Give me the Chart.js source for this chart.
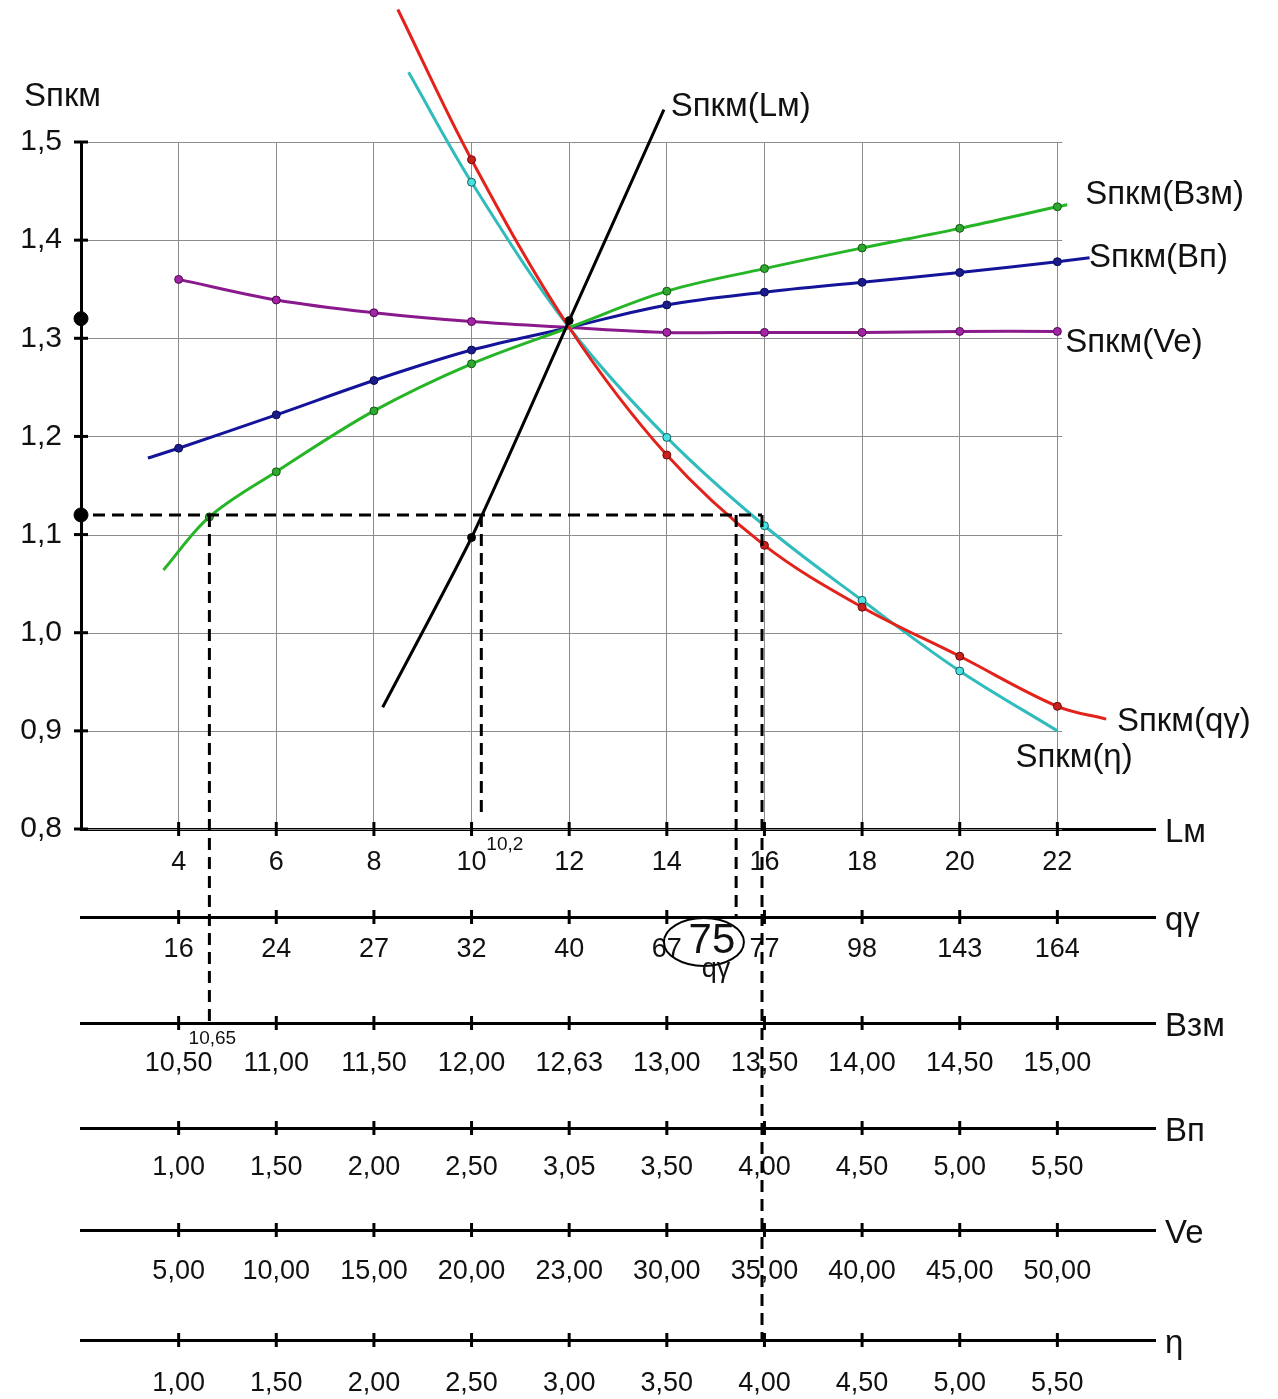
<!DOCTYPE html>
<html>
<head>
<meta charset="utf-8">
<script src="https://cdn.jsdelivr.net/npm/chart.js@4.4.0/dist/chart.umd.min.js"></script>
<style>
html,body{margin:0;padding:0;background:#fff;}
#wrap{width:1278px;height:1399px;}
</style>
</head>
<body>
<div id="wrap"><canvas id="nomo" width="1278" height="1399"></canvas></div>
<script>
var fam='"Liberation Sans", Arial, sans-serif';

// tick values of the Lм scale (shared by every lower scale)
var lmTicks=[4,6,8,10,12,14,16,18,20,22];
var qgLabels=["16","24","27","32","40","67","77","98","143","164"];
var bzmLabels=["10,50","11,00","11,50","12,00","12,63","13,00","13,50","14,00","14,50","15,00"];
var bpLabels=["1,00","1,50","2,00","2,50","3,05","3,50","4,00","4,50","5,00","5,50"];
var veLabels=["5,00","10,00","15,00","20,00","23,00","30,00","35,00","40,00","45,00","50,00"];
var etaLabels=["1,00","1,50","2,00","2,50","3,00","3,50","4,00","4,50","5,00","5,50"];

// curves, x in Lм units, y = Sпкм
var qgX=[8.49,10,12,14,16,18,20,22,23.0];
var qgY=[1.635,1.482,1.311,1.181,1.089,1.026,0.976,0.925,0.912];
var etaX=[8.71,10,12,14,16,18,20,22];
var etaY=[1.571,1.459,1.311,1.199,1.109,1.033,0.961,0.900];
var bzmX=[3.69,4.63,6,8,10,12,14,16,18,20,22,22.2];
var bzmY=[1.064,1.118,1.164,1.226,1.274,1.311,1.348,1.371,1.392,1.412,1.434,1.436];
var bpX=[3.37,4,6,8,10,12,14,16,18,20,22,22.66];
var bpY=[1.178,1.188,1.222,1.257,1.288,1.311,1.334,1.347,1.357,1.367,1.378,1.382];
var veX=[4,6,8,10,12,14,16,18,20,22];
var veY=[1.360,1.339,1.326,1.317,1.311,1.306,1.306,1.306,1.307,1.307];
var lmX=[8.18,10,12,13.94];
var lmY=[0.924,1.097,1.318,1.533];

// marked values on the Sпкм axis and the reading lines
var axisMarks=[1.32,1.12];
var guideLevel=1.12;
var guides=[{x:4.63,to:'bzm'},{x:10.2,to:'x',gap:12},{x:15.42,to:'qg'},{x:15.95,to:'eta'}];
var gridRight=22.1;

function pts(xs,ys){
  return xs.map(function(v,i){return {x:v,y:ys[i]};});
}

function curve(label,xs,ys,color,dot,edge,keepEnds,keepMid,tension){
  return {
    label:label,data:pts(xs,ys),showLine:true,borderColor:color,borderWidth:3,
    tension:tension,clip:false,fill:false,
    pointBackgroundColor:dot,pointBorderColor:edge,pointBorderWidth:1,pointHoverRadius:0,
    pointRadius:function(c){
      var n=c.dataset.data.length,i=c.dataIndex;
      if(!keepEnds&&(i===0||i===n-1))return 0;
      if(!keepMid&&c.dataset.data[i].x===12)return 0;
      return 4;
    }
  };
}

function lowerAxis(labels,h,pad){
  return {
    type:'linear',position:'bottom',min:2,max:24,
    afterBuildTicks:function(s){s.ticks=lmTicks.map(function(v){return {value:v};});},
    afterFit:function(s){s.height=h;},
    grid:{display:true,drawOnChartArea:false,drawTicks:false},
    border:{display:true,color:'#000',width:3},
    ticks:{padding:pad,color:'#111',font:{family:fam,size:27},maxRotation:0,autoSkip:false,
      callback:function(v,i){return labels[i];}}
  };
}

var lowerTitles={x:'Lм',qg:'qγ',bzm:'Взм',bp:'Вп',ve:'Ve',eta:'η'};
var curveTexts=[
  {t:'Sпкм(Lм)',x:14.08,y:1.536},
  {t:'Sпкм(Взм)',x:22.57,y:1.446},
  {t:'Sпкм(Вп)',x:22.65,y:1.382},
  {t:'Sпкм(Ve)',x:22.16,y:1.295},
  {t:'Sпкм(qγ)',x:23.22,y:0.909},
  {t:'Sпкм(η)',x:21.14,y:0.872}
];

var nomoPlugin={
  id:'nomo',
  beforeDatasetsDraw:function(chart){
    var ctx=chart.ctx,a=chart.chartArea,xs=chart.scales.x,ys=chart.scales.y;
    var xr=xs.getPixelForValue(gridRight);
    ctx.save();
    ctx.strokeStyle='#8c8c8c';ctx.lineWidth=1;
    ys.ticks.forEach(function(t){
      var py=Math.round(ys.getPixelForValue(t.value))+0.5;
      ctx.beginPath();ctx.moveTo(a.left,py);ctx.lineTo(xr,py);ctx.stroke();
    });
    ctx.restore();
  },
  afterDraw:function(chart){
    var ctx=chart.ctx,a=chart.chartArea,xs=chart.scales.x,ys=chart.scales.y;
    ctx.save();
    ctx.strokeStyle='#000';ctx.fillStyle='#111';
    // crossing tick marks
    ctx.lineWidth=3;
    ys.ticks.forEach(function(t){
      var py=ys.getPixelForValue(t.value);
      ctx.beginPath();ctx.moveTo(a.left-7,py);ctx.lineTo(a.left+7,py);ctx.stroke();
    });
    ctx.font='33px '+fam;ctx.textAlign='left';ctx.textBaseline='middle';
    Object.keys(lowerTitles).forEach(function(id){
      var s=chart.scales[id];
      lmTicks.forEach(function(v){
        var px=s.getPixelForValue(v);
        ctx.beginPath();ctx.moveTo(px,s.top-7);ctx.lineTo(px,s.top+7);ctx.stroke();
      });
      ctx.fillText(lowerTitles[id],a.right+10,s.top+4);
    });
    // reading lines
    var gy=ys.getPixelForValue(guideLevel);
    ctx.setLineDash([12,7]);ctx.lineWidth=3;
    ctx.beginPath();ctx.moveTo(a.left+12,gy);ctx.lineTo(xs.getPixelForValue(15.95),gy);ctx.stroke();
    guides.forEach(function(g){
      var px=xs.getPixelForValue(g.x);
      ctx.beginPath();ctx.moveTo(px,gy);ctx.lineTo(px,chart.scales[g.to].top-(g.gap||0));ctx.stroke();
    });
    ctx.setLineDash([]);
    // titles
    ctx.font='33px '+fam;ctx.textAlign='left';
    ctx.fillText('Sпкм',a.left-57,a.top-45);
    curveTexts.forEach(function(c){
      ctx.fillText(c.t,xs.getPixelForValue(c.x),ys.getPixelForValue(c.y));
    });
    ctx.font='19px '+fam;
    ctx.fillText('10,2',xs.getPixelForValue(10.2)+5,xs.top+16);
    ctx.textAlign='center';
    ctx.fillText('10,65',xs.getPixelForValue(4.63)+3,chart.scales.bzm.top+16);
    // the 75 reading on qγ
    var qs=chart.scales.qg,ex=xs.getPixelForValue(14.76),ey=qs.top+25;
    ctx.lineWidth=2;
    ctx.beginPath();ctx.ellipse(ex,ey,40,24,0,0,Math.PI*2);ctx.stroke();
    ctx.font='42px '+fam;ctx.fillText('75',ex+8,ey-1);
    ctx.font='27px '+fam;ctx.fillText('qγ',ex+12,ey+28);
    ctx.restore();
  }
};

new Chart(document.getElementById('nomo'),{
  type:'scatter',
  data:{datasets:[
    curve('Sпкм(Lм)',lmX,lmY,'#000','#000','#000',false,true,0.2),
    curve('Sпкм(qγ)',qgX,qgY,'#e3221b','#c8201c','#6a0c0c',false,false,0.35),
    curve('Sпкм(η)',etaX,etaY,'#30bcbc','#46e2e2','#1a5a5a',false,false,0.35),
    curve('Sпкм(Взм)',bzmX,bzmY,'#26b526','#2fa82f','#135a13',false,false,0.35),
    curve('Sпкм(Вп)',bpX,bpY,'#14149a','#1b1b8c','#0a0a50',false,false,0.35),
    curve('Sпкм(Ve)',veX,veY,'#8a1a8c','#a424a6','#4a0a4a',true,false,0.35),
    {label:'marks',data:axisMarks.map(function(v){return {x:2,y:v};}),showLine:false,
      pointRadius:7,pointBackgroundColor:'#000',pointBorderColor:'#000',clip:false,pointHoverRadius:0}
  ]},
  options:{
    responsive:false,animation:false,
    layout:{padding:{top:142,right:123,left:0,bottom:0}},
    plugins:{legend:{display:false},tooltip:{enabled:false}},
    scales:{
      y:{type:'linear',position:'left',min:0.8,max:1.5,
        afterFit:function(s){s.width=81;},
        grid:{display:true,drawOnChartArea:false,drawTicks:false},
        border:{display:true,color:'#000',width:3},
        ticks:{stepSize:0.1,padding:19,color:'#111',font:{family:fam,size:30},
          callback:function(v){return v.toFixed(1).replace('.',',');}}
      },
      x:{type:'linear',position:'bottom',min:2,max:24,
        afterBuildTicks:function(s){s.ticks=lmTicks.map(function(v){return {value:v};});},
        afterFit:function(s){s.height=88;},
        grid:{display:true,color:'#8c8c8c',lineWidth:1,drawTicks:false},
        border:{display:true,color:'#000',width:3},
        ticks:{padding:17,color:'#111',font:{family:fam,size:27},maxRotation:0,autoSkip:false,
          callback:function(v){return String(v);}}
      },
      qg:lowerAxis(qgLabels,106,16),
      bzm:lowerAxis(bzmLabels,105,24),
      bp:lowerAxis(bpLabels,102,23),
      ve:lowerAxis(veLabels,110,25),
      eta:lowerAxis(etaLabels,59,27)
    }
  },
  plugins:[nomoPlugin]
});
</script>
</body>
</html>
